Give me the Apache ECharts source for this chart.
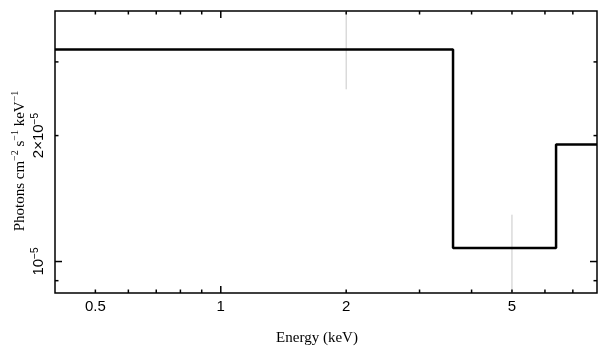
<!DOCTYPE html>
<html><head><meta charset="utf-8">
<script src="https://cdn.jsdelivr.net/npm/echarts@6/dist/echarts.min.js"></script>
<style>html,body{margin:0;padding:0;background:#fff}#c{width:609px;height:357px}</style>
</head><body><div id="c"></div>
<script>
// ---- data ----
const binEdges = [0.4, 3.61, 6.38, 8];          // keV
const binValues = [3.213e-5, 1.077e-5, 1.904e-5]; // photons cm^-2 s^-1 keV^-1
const errX = [2, 5];
const errLow = [2.58e-5, 7.0e-6];
const errHigh = [4.6e-5, 1.294e-5];
const xRange = [0.4, 8];
const yRange = [8.41e-6, 3.97e-5];
const xMajorTicks = [1];
const xMinorTicks = [0.5, 0.6, 0.7, 0.8, 0.9, 2, 3, 4, 5, 6, 7];
const yMajorTicks = [1e-5];
const yMinorTicks = [9e-6, 2e-5, 3e-5];
const xLabelValues = [0.5, 1, 2, 5];
const xLabelTexts = ['0.5', '1', '2', '5'];
const yLabelValues = [1e-5, 2e-5];
const yLabelTexts = ['{b|10}{s|\u22125}', '{b|2\u00d710}{s|\u22125}'];

// ---- build ----
const stepData = [];
binValues.forEach((v, i) => { stepData.push([binEdges[i], v]); stepData.push([binEdges[i + 1], v]); });
const errData = errX.map((x, i) => [x, errLow[i], errHigh[i]]);
const xTickData = xMajorTicks.map(v => [v, yRange[0], 1]).concat(xMinorTicks.map(v => [v, yRange[0], 0]));
const yTickData = yMajorTicks.map(v => [xRange[0], v, 1]).concat(yMinorTicks.map(v => [xRange[0], v, 0]));
const xLabData = xLabelValues.map((v, i) => [v, yRange[0], i]);
const yLabData = yLabelValues.map((v, i) => [xRange[0], v, i]);

const TICK = {stroke: '#000', lineWidth: 1.5};
const chart = echarts.init(document.getElementById('c'), null, {renderer: 'canvas'});
chart.setOption({
  animation: false,
  grid: {left: 55, top: 11, right: 12, bottom: 64, show: true, borderColor: '#000', borderWidth: 1.5, backgroundColor: 'transparent'},
  xAxis: {type: 'log', logBase: 10, min: xRange[0], max: xRange[1],
    axisLine: {show: false}, axisTick: {show: false}, axisLabel: {show: false}, splitLine: {show: false}, minorTick: {show: false}},
  yAxis: {type: 'log', logBase: 10, min: yRange[0], max: yRange[1],
    axisLine: {show: false}, axisTick: {show: false}, axisLabel: {show: false}, splitLine: {show: false}, minorTick: {show: false}},
  graphic: [
    {type: 'text', x: 317, y: 338, style: {text: 'Energy (keV)', font: '15px "Liberation Serif"', fill: '#000', align: 'center', verticalAlign: 'middle'}},
    {type: 'text', x: 19, y: 161, rotation: Math.PI / 2,
      style: {text: '{b|Photons cm}{s|\u22122}{b| s}{s|\u22121}{b| keV}{s|\u22121}', align: 'center', verticalAlign: 'middle', fill: '#000',
        rich: {b: {fontFamily: 'Liberation Serif', fontSize: 15, fill: '#000', verticalAlign: 'bottom', lineHeight: 17},
               s: {fontFamily: 'Liberation Serif', fontSize: 10, fill: '#000', verticalAlign: 'top', lineHeight: 11}}}}
  ],
  series: [
    {type: 'custom', coordinateSystem: 'cartesian2d', data: errData, encode: {x: 0, y: [1, 2]}, z: 1,
      renderItem: (params, api) => {
        const cs = params.coordSys;
        const p1 = api.coord([api.value(0), api.value(1)]);
        const p2 = api.coord([api.value(0), api.value(2)]);
        const clamp = y => Math.max(cs.y, Math.min(cs.y + cs.height, y));
        return {type: 'line', shape: {x1: p1[0], y1: clamp(p1[1]), x2: p2[0], y2: clamp(p2[1])}, style: {stroke: '#c8c8c8', lineWidth: 1}};
      }},
    {type: 'line', data: stepData, showSymbol: false, symbol: 'none', lineStyle: {color: '#000', width: 2.5}, z: 3, clip: true},
    {type: 'custom', coordinateSystem: 'cartesian2d', data: xTickData, encode: {x: 0, y: 1}, z: 4,
      renderItem: (params, api) => {
        const cs = params.coordSys;
        const x = api.coord([api.value(0), api.value(1)])[0];
        const len = api.value(2) ? 7 : 3.5;
        const b = cs.y + cs.height;
        return {type: 'group', children: [
          {type: 'line', shape: {x1: x, y1: b, x2: x, y2: b - len}, style: TICK},
          {type: 'line', shape: {x1: x, y1: cs.y, x2: x, y2: cs.y + len}, style: TICK}]};
      }},
    {type: 'custom', coordinateSystem: 'cartesian2d', data: yTickData, encode: {x: 0, y: 1}, z: 4,
      renderItem: (params, api) => {
        const cs = params.coordSys;
        const y = api.coord([api.value(0), api.value(1)])[1];
        const len = api.value(2) ? 7 : 3.5;
        const r = cs.x + cs.width;
        return {type: 'group', children: [
          {type: 'line', shape: {x1: cs.x, y1: y, x2: cs.x + len, y2: y}, style: TICK},
          {type: 'line', shape: {x1: r, y1: y, x2: r - len, y2: y}, style: TICK}]};
      }},
    {type: 'custom', coordinateSystem: 'cartesian2d', data: xLabData, encode: {x: 0, y: 1}, z: 5,
      renderItem: (params, api) => {
        const cs = params.coordSys;
        const x = api.coord([api.value(0), api.value(1)])[0];
        return {type: 'text', x: x, y: cs.y + cs.height + 14,
          style: {text: xLabelTexts[api.value(2)], font: '15px "Liberation Sans"', fill: '#000', align: 'center', verticalAlign: 'middle'}};
      }},
    {type: 'custom', coordinateSystem: 'cartesian2d', data: yLabData, encode: {x: 0, y: 1}, z: 5,
      renderItem: (params, api) => {
        const y = api.coord([api.value(0), api.value(1)])[1];
        return {type: 'text', x: 38, y: y, rotation: Math.PI / 2,
          style: {text: yLabelTexts[api.value(2)], align: 'center', verticalAlign: 'middle', fill: '#000',
            rich: {b: {fontFamily: 'Liberation Sans', fontSize: 15, fill: '#000', verticalAlign: 'bottom', lineHeight: 16},
                   s: {fontFamily: 'Liberation Sans', fontSize: 10, fill: '#000', verticalAlign: 'top', lineHeight: 10}}}};
      }}
  ]
});
</script></body></html>
